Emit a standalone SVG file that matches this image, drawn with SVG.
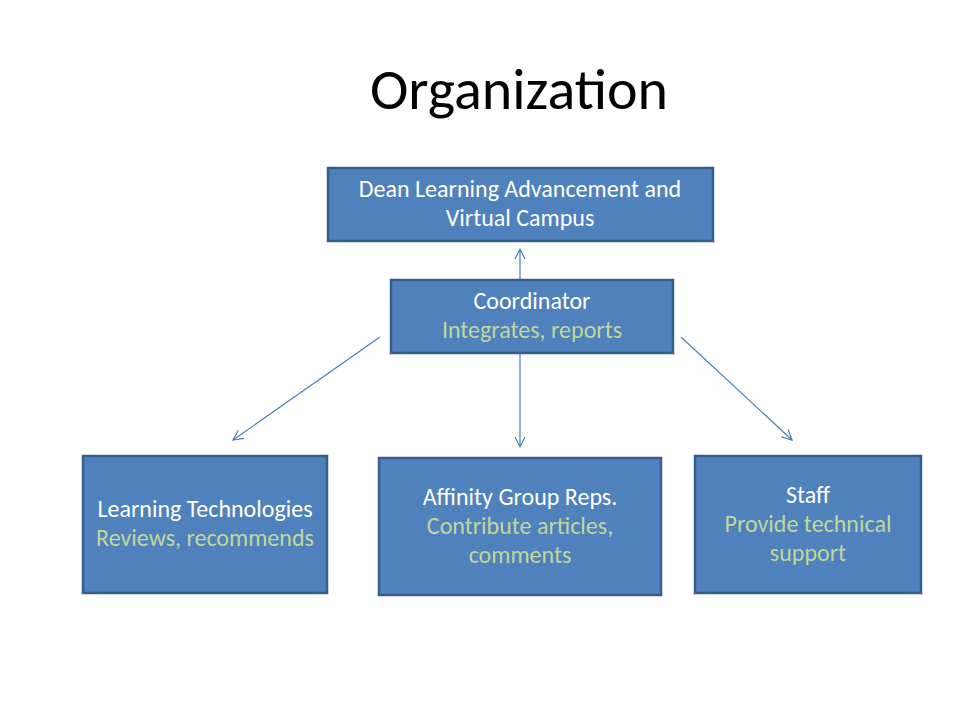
<svg xmlns="http://www.w3.org/2000/svg" width="960" height="720" viewBox="0 0 960 720">
<style>
.box{fill:#4F81BD;stroke:#385D8A;stroke-width:2.5}
.t{font-family:Calibri,Carlito,"Open Sans","Liberation Sans",sans-serif;font-size:24px;text-anchor:middle}
.w{fill:#FFFFFF}
.g{fill:#C3D69B}
.c{stroke:#4A7EBB;stroke-width:1.2;fill:none;marker-end:url(#ah)}
.title{font-family:Calibri,Carlito,"Open Sans","Liberation Sans",sans-serif;font-size:58px;fill:#000;text-anchor:middle}
</style>
<defs>
<marker id="ah" viewBox="0 0 12 12" refX="11" refY="6" markerWidth="12" markerHeight="12" markerUnits="userSpaceOnUse" orient="auto">
<path d="M1,1 L11,6 L1,11" fill="none" stroke="#4A7EBB" stroke-width="1.2"/>
</marker>
</defs>
<rect width="960" height="720" fill="#FFFFFF"/>
<text class="title" x="519" y="109">Organization</text>
<g id="connectors">
<line class="c" x1="520" y1="280" x2="520" y2="249"/>
<line class="c" x1="520" y1="353" x2="520" y2="447"/>
<line class="c" x1="380" y1="337" x2="233" y2="440"/>
<line class="c" x1="681" y1="337" x2="792" y2="440"/>
</g>
<g id="dean">
<rect class="box" x="328" y="168" width="385" height="73"/>
<text class="t w" x="520" y="197">Dean Learning Advancement and</text>
<text class="t w" x="520" y="226">Virtual Campus</text>
</g>
<g id="coordinator">
<rect class="box" x="391" y="280" width="282" height="73"/>
<text class="t w" x="532" y="309">Coordinator</text>
<text class="t g" x="532" y="338">Integrates, reports</text>
</g>
<g id="learning-technologies">
<rect class="box" x="83" y="456" width="244" height="137"/>
<text class="t w" x="205" y="517">Learning Technologies</text>
<text class="t g" x="205" y="546">Reviews, recommends</text>
</g>
<g id="affinity">
<rect class="box" x="379" y="458" width="282" height="137"/>
<text class="t w" x="520" y="505">Affinity Group Reps.</text>
<text class="t g" x="520" y="534">Contribute articles,</text>
<text class="t g" x="520" y="563">comments</text>
</g>
<g id="staff">
<rect class="box" x="695" y="456" width="226" height="137"/>
<text class="t w" x="808" y="503">Staff</text>
<text class="t g" x="808" y="532">Provide technical</text>
<text class="t g" x="808" y="561">support</text>
</g>
</svg>
